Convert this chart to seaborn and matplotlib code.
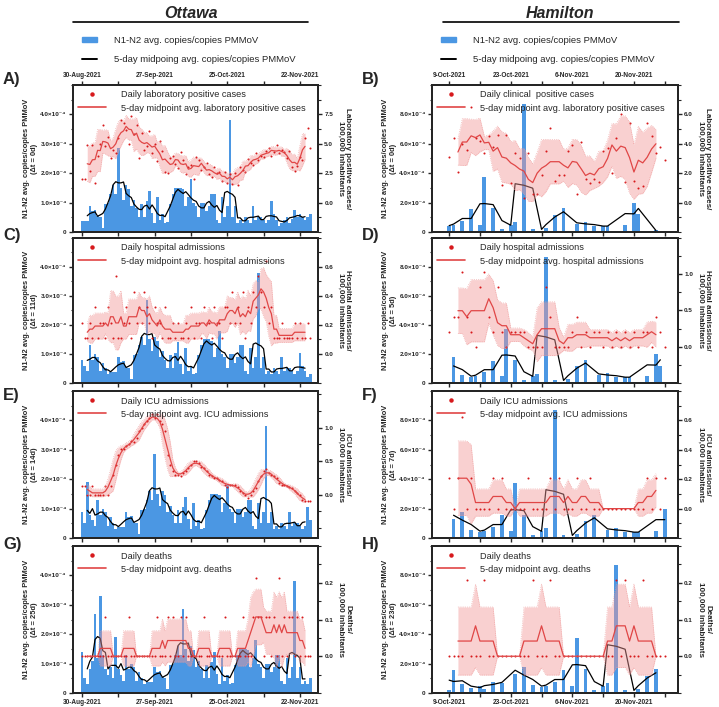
import pandas as pd
import seaborn as sns
import matplotlib.pyplot as plt
from matplotlib.lines import Line2D
from matplotlib.patches import Patch
from matplotlib.ticker import FixedLocator, FixedFormatter, MultipleLocator

sns.set_theme(style="ticks")
plt.rcParams["font.family"] = ["Liberation Sans", "DejaVu Sans"]

# ---------------- wastewater (N1-N2 copies / copies PMMoV, x 1e-4) -------------
# Ottawa: daily, first value on 5-Aug-2021
ottawa_ww_start = "2021-08-05"
ottawa_ww = [
    1.4, 0.5, 0.3, 0.8, 1.1, 2.7, 1.2, 3.3, 1.3, 0.8,
    0.6, 0.9, 0.5, 1.9, 0.8, 0.6, 0.4, 1.3, 0.8, 1.0,
    0.9, 0.4, 0.7, 0.5, 0.3,
    0.38, 0.38, 0.38, 0.9, 0.72, 0.75, 0.55, 0.5, 0.15, 0.95,
    1.0, 1.3, 1.6, 1.3, 2.85, 1.5, 1.1, 1.6, 1.45, 0.9,
    1.1, 0.8, 0.5, 0.95, 0.5, 1.05, 1.4, 0.65, 0.3, 1.2,
    0.4, 0.6, 0.3, 0.35, 0.95, 1.3, 1.5, 1.5, 1.5, 1.45,
    0.9, 1.2, 1.8, 1.0, 0.9, 0.5, 1.0, 1.0, 0.7, 0.9,
    1.3, 1.3, 0.4, 0.3, 1.2, 0.5, 0.9, 3.8, 0.5, 0.9,
    0.3, 0.4, 0.3, 0.5, 0.4, 0.3, 0.9, 0.4, 0.5, 0.5,
    0.4, 0.3, 0.4, 1.05, 0.6, 0.4, 0.2, 0.3, 0.4, 0.5,
    0.3, 0.45, 0.75, 0.5, 0.6, 0.5, 0.4, 0.5, 0.6]

# Hamilton: irregular samples, day counted from 9-Oct-2021
hamilton_ww_days = [-21, -20, -18, -16, -14, -13, -11, -9, -6, -4, -2,
                    0, 1, 3, 5, 7, 8, 10, 12, 14, 15, 17, 19, 21, 22, 24,
                    26, 29, 31, 33, 35, 36, 40, 42, 43, 47]
hamilton_ww = [0.2, 1.55, 0.6, 0.35, 0.45, 0.3, 0.75, 0.7, 1.3, 1.8, 0.55,
               0.41, 0.45, 0.75, 1.55, 0.45, 3.75, 1.6, 0.23, 0.5, 0.65,
               8.7, 0.18, 0.05, 0.3, 1.15, 1.6, 0.55, 0.7, 0.4, 0.4, 0.4,
               0.5, 2.0, 1.2, 0.1]

# ---------------- clinical data (daily) ---------------------------------------
ottawa_clin_start = "2021-08-30"
ottawa_unit = 0.107  # one event per 100,000 inhabitants
ottawa_cases = [
    2.0, 2.0, 4.9, 2.7, 4.9, 1.7, 4.0, 5.0, 6.6, 4.8,
    5.6, 3.8, 4.5, 4.2, 5.5, 7.0, 6.8, 6.2, 5.0, 7.4,
    5.8, 6.6, 3.8, 5.9, 4.5, 4.8, 6.1, 4.2, 5.0, 3.5,
    5.2, 4.4, 2.6, 2.5, 3.8, 4.0, 3.3, 2.9, 4.3, 3.6,
    2.4, 3.0, 3.2, 2.0, 3.9, 3.6, 2.8, 3.0, 3.4, 2.4,
    2.2, 3.0, 2.5, 2.6, 1.8, 2.6, 1.7, 2.4, 1.6, 2.5,
    1.5, 3.0, 2.8, 2.6, 3.7, 3.4, 3.2, 4.2, 3.6, 4.0,
    3.9, 4.4, 4.6, 4.0, 4.3, 4.9, 4.2, 4.5, 4.3, 3.8,
    4.4, 3.0, 2.7, 3.1, 3.9, 3.6, 5.5, 6.3, 4.6]
ottawa_hosp_counts = [
    2, 1, 1, 2, 1, 3, 1, 2, 2, 1,
    3, 2, 1, 5, 1, 1, 2, 3, 2, 1,
    4, 2, 3, 2, 4, 3, 2, 1, 3, 2,
    2, 1, 3, 1, 1, 2, 1, 2, 1, 1,
    2, 1, 3, 1, 2, 2, 1, 3, 2, 2,
    1, 3, 2, 2, 1, 3, 3, 2, 4, 2,
    3, 2, 4, 1, 3, 2, 4, 3, 5, 4,
    3, 6, 2, 3, 1, 1, 1, 2, 1, 1,
    1, 1, 2, 1, 2, 1, 1, 2, 1]
ottawa_icu = [
    0.13, 0.13, 0.0, 0.0, 0.13, 0.0, 0.0, 0.0, 0.0, 0.13,
    0.0, 0.13, 0.3, 0.45, 0.6, 0.68, 0.68, 0.72, 0.75, 0.8,
    0.78, 0.85, 0.95, 1.0, 1.05, 1.1, 1.15, 1.2, 1.15, 1.2,
    1.1, 1.05, 0.95, 0.6, 0.45, 0.35, 0.3, 0.3, 0.28, 0.32,
    0.35, 0.4, 0.45, 0.5, 0.5, 0.48, 0.42, 0.4, 0.35, 0.3,
    0.28, 0.25, 0.25, 0.22, 0.2, 0.15, 0.12, 0.15, 0.15, 0.15,
    0.12, 0.05, 0.03, 0.0, -0.05, 0.0, 0.05, 0.1, 0.2, 0.28,
    0.35, 0.38, 0.32, 0.3, 0.28, 0.25, 0.18, 0.15, 0.15, 0.13,
    0.12, 0.1, 0.05, 0.03, 0.0, -0.08, -0.1, -0.1, -0.1]
ottawa_death_counts = [
    0, 0, 0, 0, 0, 0, 0, 0, 0, 1,
    0, 0, 0, 0, 0, 0, 0, 0, 1, 0,
    0, 0, 0, 0, 0, 0, 0, 0, 0, 1,
    0, 0, 0, 1, 0, 1, 0, 0, 1, 0,
    1, 0, 0, 0, 0, 0, 0, 1, 0, 0,
    0, 0, 0, 0, 0, 1, 0, 0, 0, 0,
    0, 0, 1, 0, 0, 0, 1, 2, 1, 1,
    0, 1, 1, 0, 1, 0, 2, 0, 1, 0,
    1, 1, 0, 1, 0, 1, 0, 0, 0]

hamilton_clin_start = "2021-10-09"
hamilton_unit = 0.207
hamilton_cases = [
    3.1, 4.4, 2.1, 4.0, 3.6, 6.5, 4.4, 4.2, 3.4, 4.5,
    3.8, 4.6, 1.2, 4.6, 1.3, 3.4, 3.0, 0.3, 3.4, 0.6,
    0.6, 1.9, 3.5, 5.1, 1.5, 1.9, 1.9, 3.5, 3.9, 0.6,
    4.1, 1.6, 1.3, 1.6, 1.4, 3.5, 3.7, 2.0, 4.4, 6.0,
    1.4, 5.4, 1.5, 1.0, 1.1, 5.4, 4.5, 3.4, 3.8, 2.9]
hamilton_hosp_counts = [
    1, 2, 2, 5, 2, 1, 0, 4, 5, 2,
    1, 4, 1, 0, 1, 1, 1, 1, 0, 0,
    0, 0, 4, 2, 0, 0, 0, 0, 1, 2,
    0, 1, 0, 1, 1, 0, 1, 0, 1, 0,
    1, 0, 1, 0, 1, 1, 0, 2, 1, 0]
hamilton_icu_counts = [
    1, 0, 1, 3, 0, 1, 0, 0, 0, 0,
    1, 0, 1, 0, 0, 0, 0, 0, 1, 0,
    0, 0, 0, 1, 0, 1, 0, 0, 0, 1,
    0, 0, 1, 0, 0, 0, 0, 0, 0, 0,
    0, 0, 0, 0, 0, 1, 0, 1, 0, 1]
hamilton_death_counts = [
    0, 0, 0, 0, 1, 0, 0, 0, 1, 0,
    0, 0, 0, 0, 0, 0, 0, 0, 0, 1,
    0, 0, 0, 1, 0, 0, 0, 0, 0, 0,
    0, 0, 0, 0, 0, 0, 0, 0, 1, 0,
    1, 0, 0, 0, 1, 0, 0, 0, 0, 0]

# ---------------- panel text / scales -----------------------------------------
ottawa_lags = [0, 11, 14, 25]
hamilton_lags = [0, 5, 7, 23]
hamilton_shift_drawn = [0, 5, 7, 21]
panel_letters = [["A)", "C)", "E)", "G)"], ["B)", "D)", "F)", "H)"]]
right_labels = ["Laboratory positive cases/\n100,000 inhabitants",
                "Hospital admissions/\n100,000 inhabitants",
                "ICU admissions/\n100,000 inhabitants",
                "Deaths/\n100,000 inhabitants"]
ottawa_legends = [("Daily laboratory positive cases",
                   "5-day midpoint avg. laboratory positive cases"),
                  ("Daily hospital admissions",
                   "5-day midpoint avg. hospital admissions"),
                  ("Daily ICU admissions", "5-day midpoint avg. ICU admissions"),
                  ("Daily deaths", "5-day midpoint avg. deaths")]
hamilton_legends = [("Daily clinical  positive cases",
                     "5-day midpoint avg. laboratory positive cases")] + \
    ottawa_legends[1:]
ottawa_right_lims = [(-2.5, 10), (-0.2, 0.8), (-0.65, 1.55), (-0.1, 0.3)]
ottawa_right_ticks = [[0, 2.5, 5, 7.5], [0, 0.2, 0.4, 0.6], [0, 0.5, 1.0],
                      [0, 0.1, 0.2]]
hamilton_right_lims = [(-2, 8), (-0.5, 1.5), (-0.2, 0.8), (-0.1, 0.3)]
hamilton_right_ticks = [[0, 2, 4, 6], [0, 0.5, 1.0], [0, 0.2, 0.4, 0.6],
                        [0, 0.1, 0.2]]
ottawa_left_ticks = [0, 1e-4, 2e-4, 3e-4, 4e-4]
ottawa_left_labels = ["0", "1.0×10⁻⁴", "2.0×10⁻⁴", "3.0×10⁻⁴", "4.0×10⁻⁴"]
hamilton_left_ticks = [0, 2e-4, 4e-4, 6e-4, 8e-4]
hamilton_left_labels = ["0", "2.0×10⁻⁴", "4.0×10⁻⁴", "6.0×10⁻⁴", "8.0×10⁻⁴"]
ottawa_xticks = ["2021-08-30", "2021-09-13", "2021-09-27", "2021-10-11",
                 "2021-10-25", "2021-11-08", "2021-11-22"]
ottawa_xlabels = ["30-Aug-2021", "", "27-Sep-2021", "", "25-Oct-2021", "",
                  "22-Nov-2021"]
hamilton_xticks = ["2021-10-09", "2021-10-16", "2021-10-23", "2021-10-30",
                   "2021-11-06", "2021-11-13", "2021-11-20", "2021-11-27"]
hamilton_xlabels = ["9-Oct-2021", "", "23-Oct-2021", "", "6-Nov-2021", "",
                    "20-Nov-2021", ""]

BLUE = "#4B97E3"
RED = "#D7191C"
RED_LINE = "#E04646"
BAND = "#F29898"

# ---------------- build series ------------------------------------------------
ott_ww = pd.Series([v * 1e-4 for v in ottawa_ww],
                   index=pd.date_range(ottawa_ww_start, periods=len(ottawa_ww)))
ham_ww = pd.Series([v * 1e-4 for v in hamilton_ww],
                   index=pd.Timestamp(hamilton_clin_start)
                   + pd.to_timedelta(hamilton_ww_days, unit="D"))


def clinical(values, start, unit=None):
    vals = [v * unit for v in values] if unit else list(values)
    return pd.Series(vals, index=pd.date_range(start, periods=len(vals)))


ottawa_clin = [clinical(ottawa_cases, ottawa_clin_start),
               clinical(ottawa_hosp_counts, ottawa_clin_start, ottawa_unit),
               clinical(ottawa_icu, ottawa_clin_start),
               clinical(ottawa_death_counts, ottawa_clin_start, ottawa_unit)]
hamilton_clin = [clinical(hamilton_cases, hamilton_clin_start),
                 clinical(hamilton_hosp_counts, hamilton_clin_start,
                          hamilton_unit),
                 clinical(hamilton_icu_counts, hamilton_clin_start,
                          hamilton_unit),
                 clinical(hamilton_death_counts, hamilton_clin_start,
                          hamilton_unit)]


def draw_panel(ax, ww, shift, clin, daily, bar_w, right_lim, right_ticks,
               legend_txt):
    start, end = clin.index[0], clin.index[-1]
    shown = ww.copy()
    shown.index = shown.index + pd.Timedelta(days=shift)
    shown = shown[(shown.index >= start) & (shown.index <= end)]
    if daily:
        avg = shown.rolling(5, center=True).mean()
    else:
        avg = shown.rolling("5D", center=True, min_periods=1).mean()

    ax.bar(shown.index, shown.values, width=bar_w, color=BLUE, linewidth=0,
           zorder=1)
    sns.lineplot(x=avg.index, y=avg.values, color="black", lw=0.9, ax=ax,
                 zorder=2)

    ax2 = ax.twinx()
    mean = clin.rolling(5, center=True).mean()
    sd = clin.rolling(5, center=True).std()
    ax2.fill_between(clin.index, mean - sd, mean + sd, color=BAND, alpha=0.45,
                     linewidth=0)
    for edge in (mean - sd, mean + sd):
        ax2.plot(edge.index, edge.values, color="#EE9A9A", lw=0.5, ls=":")
    sns.lineplot(x=mean.index, y=mean.values, color=RED_LINE, lw=0.9, ax=ax2)
    sns.scatterplot(x=clin.index, y=clin.values, color=RED, s=2.2,
                    linewidth=0, ax=ax2)
    ax2.set_ylim(*right_lim)
    step = right_ticks[1] - right_ticks[0]
    ax2.yaxis.set_major_locator(FixedLocator(right_ticks))
    ax2.yaxis.set_major_formatter(
        FixedFormatter([f"{t:.1f}" for t in right_ticks]))
    ax2.yaxis.set_minor_locator(MultipleLocator(step / 2))
    ax2.tick_params(axis="y", which="major", length=3, width=1.0, pad=1.5,
                    labelsize=4.6)
    ax2.tick_params(axis="y", which="minor", length=1.8, width=0.8)
    for lab in ax2.get_yticklabels():
        lab.set_fontweight("bold")
    handles = [Line2D([], [], ls="none", marker="o", ms=2.2, color=RED),
               Line2D([], [], color=RED_LINE, lw=1.2)]
    ax2.legend(handles, legend_txt, loc="upper left", frameon=False,
               fontsize=6.6, handlelength=3.0, handletextpad=1.6,
               borderaxespad=0.2, labelspacing=0.45,
               bbox_to_anchor=(0.0, 1.0))
    for s in ax2.spines.values():
        s.set_linewidth(1.4)
    return ax2


fig = plt.figure(figsize=(7.19, 7.07), dpi=100)
fig.patch.set_facecolor("white")

rows_bottom = [0.6719, 0.4583, 0.2390, 0.0198]
rows_height = [0.2079, 0.2051, 0.2079, 0.2079]
col_left = [0.1015, 0.6008]
col_width = [0.3408, 0.3421]
label_y = [0.888, 0.667, 0.440, 0.230]

for c in range(2):
    if c == 0:
        ww, lags, drawn, clins = ott_ww, ottawa_lags, ottawa_lags, ottawa_clin
        rlims, rticks, legs = ottawa_right_lims, ottawa_right_ticks, \
            ottawa_legends
        lticks, llabels = ottawa_left_ticks, ottawa_left_labels
        xt, xl = ottawa_xticks, ottawa_xlabels
        top, minor, bar_w, daily = 5e-4, 0.5e-4, 1.0, True
        xlim = (pd.Timestamp("2021-08-30") - pd.Timedelta(days=3.5),
                pd.Timestamp("2021-08-30") + pd.Timedelta(days=91))
    else:
        ww, lags, drawn, clins = ham_ww, hamilton_lags, hamilton_shift_drawn, \
            hamilton_clin
        rlims, rticks, legs = hamilton_right_lims, hamilton_right_ticks, \
            hamilton_legends
        lticks, llabels = hamilton_left_ticks, hamilton_left_labels
        xt, xl = hamilton_xticks, hamilton_xlabels
        top, minor, bar_w, daily = 10e-4, 1e-4, 0.85, False
        xlim = (pd.Timestamp("2021-10-09") - pd.Timedelta(days=3.9),
                pd.Timestamp("2021-10-09") + pd.Timedelta(days=52))

    for r in range(4):
        ax = fig.add_axes([col_left[c], rows_bottom[r], col_width[c],
                           rows_height[r]])
        ax.set_facecolor("white")
        ax2 = draw_panel(ax, ww, drawn[r], clins[r], daily, bar_w, rlims[r],
                         rticks[r], legs[r])
        ax.set_xlim(*xlim)
        ax.set_ylim(0, top)
        ax.yaxis.set_major_locator(FixedLocator(lticks))
        ax.yaxis.set_major_formatter(FixedFormatter(llabels))
        ax.yaxis.set_minor_locator(MultipleLocator(minor))
        ax.set_xticks(pd.to_datetime(xt))
        ax.set_xticklabels(xl)
        ax.tick_params(axis="y", which="major", length=3, width=1.0, pad=1.5,
                       labelsize=4.6)
        ax.tick_params(axis="y", which="minor", length=1.8, width=0.8)
        ax.tick_params(axis="x", length=3, width=1.0, pad=1.5, labelsize=4.7,
                       top=(r == 0), labeltop=(r == 0), bottom=True,
                       labelbottom=(r == 3))
        for lab in ax.get_yticklabels() + ax.get_xticklabels():
            lab.set_fontweight("bold")
        for s in ax.spines.values():
            s.set_linewidth(1.4)
            s.set_color("black")
        ax.set_xlabel("")
        ax.set_ylabel(f"N1-N2 avg. copies/copies PMMoV\n(Δt = {lags[r]}d)",
                      fontsize=5.4, fontweight="bold", labelpad=2,
                      linespacing=1.1)
        ax2.set_ylabel(right_labels[r], fontsize=5.8, fontweight="bold",
                       rotation=270, labelpad=13, linespacing=1.05)

        if r == 0:
            ax.legend([Patch(color=BLUE), Line2D([], [], color="black", lw=1.4)],
                      ["N1-N2 avg. copies/copies PMMoV",
                       "5-day midpoing avg. copies/copies PMMoV"],
                      loc="lower left", bbox_to_anchor=(0.02, 1.12),
                      frameon=False, fontsize=6.8, handlelength=1.6,
                      handleheight=0.5, handletextpad=1.8, labelspacing=1.05,
                      borderaxespad=0)

        fig.text(0.004 if c == 0 else 0.503, label_y[r], panel_letters[c][r],
                 fontsize=12, fontweight="bold", ha="left", va="center")

fig.text(0.265, 0.981, "Ottawa", fontsize=11.5, fontweight="bold",
         style="italic", ha="center", va="center")
fig.text(0.779, 0.981, "Hamilton", fontsize=11.5, fontweight="bold",
         style="italic", ha="center", va="center")
fig.add_artist(Line2D([0.1015, 0.428], [0.969, 0.969], color="black", lw=1.2))
fig.add_artist(Line2D([0.616, 0.944], [0.969, 0.969], color="black", lw=1.2))

fig.savefig("out.png", dpi=100, facecolor="white")
